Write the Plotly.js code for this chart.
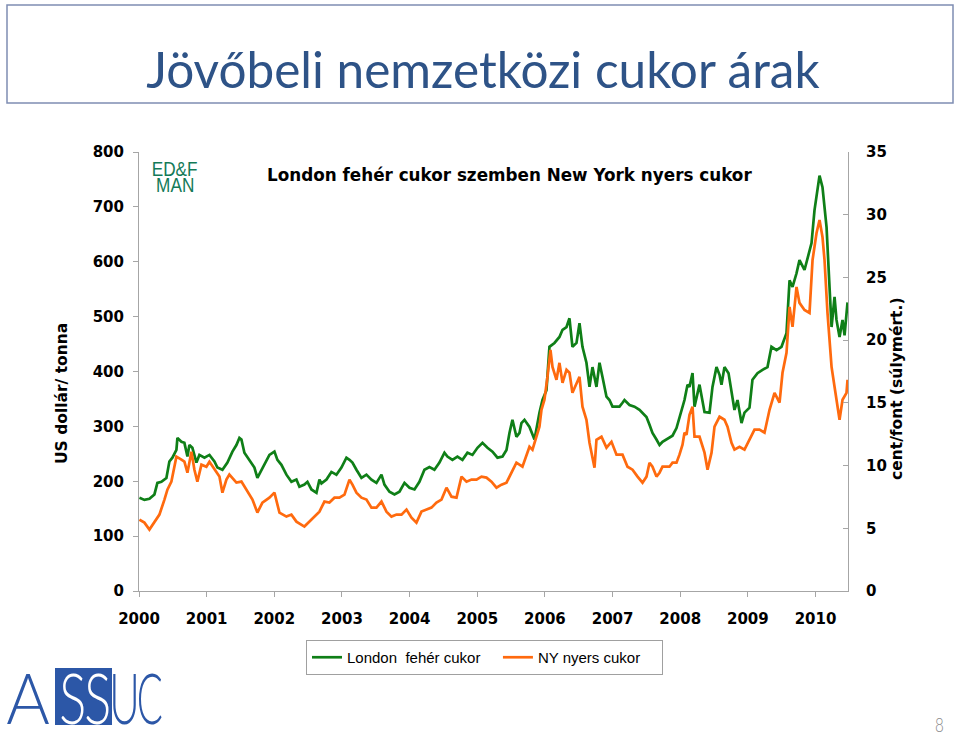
<!DOCTYPE html>
<html>
<head>
<meta charset="utf-8">
<script src="https://cdn.plot.ly/plotly-3.0.1.min.js"></script>
<style>html,body{margin:0;padding:0;background:#fff;}#chart{width:960px;height:733px;}</style>
</head>
<body>
<div id="chart"></div>
<script>
// ---- Data ----
// London white sugar, US dollar / tonne (left axis)
const londonYears = [2000.006,2000.080,2000.154,2000.228,2000.272,2000.331,2000.405,2000.449,2000.494,2000.553,2000.568,2000.627,2000.671,2000.716,2000.745,2000.789,2000.849,2000.893,2000.967,2001.041,2001.115,2001.159,2001.233,2001.307,2001.381,2001.440,2001.484,2001.514,2001.558,2001.632,2001.706,2001.750,2001.810,2001.883,2001.928,2002.002,2002.046,2002.105,2002.179,2002.253,2002.327,2002.371,2002.445,2002.490,2002.549,2002.623,2002.667,2002.697,2002.771,2002.844,2002.918,2002.992,2003.066,2003.111,2003.155,2003.214,2003.288,2003.362,2003.436,2003.510,2003.584,2003.628,2003.702,2003.776,2003.850,2003.924,2003.998,2004.072,2004.145,2004.219,2004.293,2004.367,2004.441,2004.515,2004.559,2004.633,2004.707,2004.781,2004.855,2004.929,2005.003,2005.077,2005.151,2005.225,2005.299,2005.373,2005.432,2005.476,2005.520,2005.579,2005.624,2005.653,2005.698,2005.772,2005.846,2005.919,2005.964,2006.023,2006.067,2006.141,2006.215,2006.260,2006.319,2006.363,2006.407,2006.467,2006.511,2006.555,2006.614,2006.659,2006.703,2006.762,2006.807,2006.851,2006.910,2006.954,2006.999,2007.058,2007.102,2007.147,2007.176,2007.250,2007.324,2007.398,2007.501,2007.546,2007.590,2007.649,2007.694,2007.738,2007.797,2007.841,2007.886,2007.945,2007.989,2008.034,2008.063,2008.108,2008.137,2008.182,2008.211,2008.285,2008.359,2008.433,2008.477,2008.536,2008.581,2008.610,2008.654,2008.714,2008.758,2008.802,2008.847,2008.906,2008.950,2009.024,2009.068,2009.098,2009.142,2009.216,2009.290,2009.349,2009.423,2009.497,2009.571,2009.616,2009.660,2009.719,2009.763,2009.837,2009.882,2009.941,2009.985,2010.030,2010.059,2010.103,2010.163,2010.207,2010.237,2010.281,2010.310,2010.355,2010.399,2010.429,2010.473];
const londonValues = [170,166,168,176,197,199,206,236,243,257,279,272,270,245,266,261,234,248,243,248,236,225,221,234,254,266,279,276,252,239,225,206,221,239,248,254,239,230,212,199,203,190,194,199,185,179,203,196,203,217,212,225,243,239,234,221,206,212,203,197,212,194,181,176,181,197,188,185,199,221,226,221,234,252,245,239,245,239,252,248,261,270,261,254,243,245,257,288,312,281,288,306,312,299,276,325,348,366,445,452,463,476,481,497,445,452,488,445,416,372,408,372,416,390,354,348,336,336,336,343,348,339,336,330,317,303,288,276,266,272,276,279,283,297,316,339,348,376,372,397,336,376,326,325,372,408,394,376,408,397,361,330,348,306,325,334,385,390,397,403,408,445,439,445,470,566,554,579,603,585,608,634,694,736,757,736,663,554,481,536,494,463,494,466,526];
// New York raw sugar, US cents / pound (right axis)
const nyYears = [2000.006,2000.080,2000.154,2000.228,2000.302,2000.376,2000.420,2000.479,2000.553,2000.627,2000.671,2000.716,2000.775,2000.819,2000.863,2000.923,2000.996,2001.041,2001.115,2001.189,2001.233,2001.292,2001.336,2001.440,2001.514,2001.588,2001.677,2001.750,2001.824,2001.928,2002.002,2002.076,2002.179,2002.253,2002.327,2002.445,2002.549,2002.667,2002.741,2002.815,2002.889,2002.963,2003.037,2003.111,2003.155,2003.214,2003.288,2003.362,2003.436,2003.510,2003.584,2003.658,2003.732,2003.806,2003.880,2003.954,2004.028,2004.101,2004.175,2004.249,2004.323,2004.397,2004.471,2004.545,2004.619,2004.693,2004.767,2004.841,2004.915,2004.989,2005.062,2005.136,2005.210,2005.284,2005.358,2005.432,2005.476,2005.579,2005.668,2005.772,2005.816,2005.875,2005.919,2005.949,2005.993,2006.038,2006.082,2006.112,2006.171,2006.215,2006.260,2006.319,2006.363,2006.407,2006.467,2006.511,2006.555,2006.614,2006.659,2006.703,2006.733,2006.762,2006.836,2006.910,2006.984,2007.058,2007.147,2007.221,2007.295,2007.369,2007.443,2007.502,2007.546,2007.590,2007.649,2007.694,2007.738,2007.797,2007.841,2007.886,2007.945,2007.989,2008.034,2008.063,2008.093,2008.137,2008.182,2008.211,2008.285,2008.359,2008.404,2008.463,2008.507,2008.581,2008.654,2008.699,2008.758,2008.802,2008.876,2008.950,2009.024,2009.098,2009.172,2009.246,2009.320,2009.394,2009.468,2009.512,2009.571,2009.616,2009.660,2009.719,2009.763,2009.837,2009.911,2009.956,2010.015,2010.059,2010.103,2010.133,2010.177,2010.237,2010.281,2010.326,2010.355,2010.399,2010.458,2010.473];
const nyValues = [5.69,5.45,4.90,5.45,6.09,7.29,8.08,8.72,10.71,10.47,10.31,9.43,11.11,9.67,8.72,10.07,9.91,10.31,9.67,9.12,7.84,8.88,9.28,8.64,8.72,8.08,7.29,6.25,7.05,7.44,7.84,6.25,5.93,6.09,5.53,5.14,5.69,6.33,7.13,7.05,7.44,7.44,7.68,8.88,8.48,7.84,7.44,7.29,6.65,6.65,7.13,6.33,5.93,6.09,6.09,6.49,5.85,5.45,6.33,6.49,6.65,7.05,7.29,8.24,7.52,7.44,9.12,8.72,8.88,8.88,9.12,9.04,8.72,8.24,8.48,8.64,9.12,10.23,9.91,11.50,11.27,12.30,13.10,14.45,15.25,17.08,19.23,17.87,16.84,18.19,16.60,17.64,17.40,15.80,16.60,17.08,14.69,13.65,11.82,10.47,9.83,12.06,12.30,11.43,11.90,10.87,10.87,9.91,9.67,9.12,8.64,9.12,10.23,9.91,9.12,9.43,9.91,9.91,9.91,10.23,10.23,10.87,11.66,12.62,12.46,14.05,14.69,12.30,12.30,11.03,9.67,11.03,13.10,13.89,13.65,13.10,11.82,11.27,11.50,11.27,12.06,12.86,12.86,12.62,14.45,15.80,15.01,17.40,18.99,22.65,21.06,24.24,22.97,22.41,22.17,26.39,28.54,29.58,28.22,26.39,22.17,17.87,16.28,14.69,13.65,15.25,15.80,16.84];
const yearTicks = [2000,2001,2002,2003,2004,2005,2006,2007,2008,2009,2010];
const yearLabels = ['2000','2001','2002','2003','2004','2005','2006','2007','2008','2009','2010'];
const leftTicks = [0,100,200,300,400,500,600,700,800];
const rightTicks = [0,5,10,15,20,25,30,35];
const seriesNames = ['London  fehér cukor', 'NY nyers cukor'];

// ---- Layout helpers (pixel -> paper) ----
const L = 139, R = 848, T = 152, B = 591;
const px = x => (x - L) / (R - L);
const py = y => (B - y) / (B - T);
const NB = '\u00a0';
const bold = {family: 'DejaVu Sans, Verdana, sans-serif', size: 15, color: '#000', weight: 'bold'};
const logoFont = (size, color) => ({family: 'Lato, Liberation Sans, sans-serif', size: size, color: color, weight: 300});
const manFont = {family: 'Liberation Sans, Arial, sans-serif', size: 20, color: '#137a58'};

const traces = [
  {x: londonYears, y: londonValues, name: seriesNames[0] + NB.repeat(3), type: 'scatter', mode: 'lines',
   line: {color: '#0f7f17', width: 2.7}, yaxis: 'y'},
  {x: nyYears, y: nyValues, name: seriesNames[1] + NB.repeat(4), type: 'scatter', mode: 'lines',
   line: {color: '#ff6a0e', width: 2.7}, yaxis: 'y2'}
];

// horizontal squeeze factors for some annotations (by annotation index)
const squeeze = {3: 0.86, 4: 0.86, 5: 0.95, 6: 0.72, 7: 0.72, 8: 0.6, 9: 0.55, 10: 0.8};

const layout = {
  width: 960, height: 733,
  margin: {l: L, r: 960 - R, t: T, b: 733 - B, pad: 0},
  paper_bgcolor: '#fff', plot_bgcolor: '#fff',
  showlegend: true,
  title: {text: 'Jövőbeli nemzetközi cukor árak', x: 0.503, xanchor: 'center', y: 1 - 71 / 733, yanchor: 'middle',
          font: {family: 'Lato, Open Sans, sans-serif', size: 49.5, color: '#2e5387'}},
  xaxis: {type: 'linear', range: [2000, 2010.48], tickvals: yearTicks, ticktext: yearLabels,
          showline: true, linecolor: '#a6a6a6', linewidth: 1, ticks: 'outside', ticklen: 5, tickcolor: '#a6a6a6',
          showgrid: false, zeroline: false, tickfont: bold, ticklabelstandoff: 9, fixedrange: true},
  yaxis: {range: [0, 800], tickvals: leftTicks, showline: true, linecolor: '#a6a6a6', linewidth: 1,
          ticks: 'outside', ticklen: 5, tickcolor: '#a6a6a6', showgrid: false, zeroline: false,
          tickfont: bold, ticklabelstandoff: 6},
  yaxis2: {range: [0, 35], tickvals: rightTicks, overlaying: 'y', side: 'right', anchor: 'x',
           showline: true, linecolor: '#a6a6a6', linewidth: 1, ticks: 'inside', ticklen: 5, tickcolor: '#a6a6a6',
           showgrid: false, zeroline: false, tickfont: bold, ticklabelstandoff: 14},
  legend: {orientation: 'h', x: px(306), xanchor: 'left', y: py(640), yanchor: 'top',
           bordercolor: '#a0a0a0', borderwidth: 1, bgcolor: '#fff',
           font: {family: 'Liberation Sans, Arial, sans-serif', size: 15, color: '#000'},
           itemwidth: 30, tracegroupgap: 0},
  shapes: [
    {type: 'rect', xref: 'paper', yref: 'paper', x0: px(7), x1: px(953), y0: py(103), y1: py(5),
     line: {color: '#7f8db3', width: 1.5}, fillcolor: 'rgba(0,0,0,0)'},
    {type: 'rect', xref: 'paper', yref: 'paper', x0: px(55), x1: px(112), y0: py(725), y1: py(668),
     line: {width: 0}, fillcolor: '#2c57a7'}
  ],
  annotations: [
    {text: '<b>London fehér cukor szemben New York nyers cukor</b>', xref: 'paper', yref: 'paper',
     x: px(509), y: py(175), xanchor: 'center', yanchor: 'middle', showarrow: false,
     font: {family: 'DejaVu Sans, Verdana, sans-serif', size: 16.8, color: '#000'}},
    {text: '<b>US dollár/ tonna</b>', xref: 'paper', yref: 'paper', x: px(62), y: py(394),
     xanchor: 'center', yanchor: 'middle', textangle: -90, showarrow: false,
     font: {family: 'DejaVu Sans, Verdana, sans-serif', size: 15.5, color: '#000'}},
    {text: '<b>cent/font (súlymért.)</b>', xref: 'paper', yref: 'paper', x: px(897), y: py(388),
     xanchor: 'center', yanchor: 'middle', textangle: -90, showarrow: false,
     font: {family: 'DejaVu Sans, Verdana, sans-serif', size: 15.5, color: '#000'}},
    {text: 'ED&amp;F', xref: 'paper', yref: 'paper', x: px(174.5), y: py(168.5), xanchor: 'center', yanchor: 'middle',
     showarrow: false, font: manFont},
    {text: 'MAN', xref: 'paper', yref: 'paper', x: px(174.5), y: py(184.5), xanchor: 'center', yanchor: 'middle',
     showarrow: false, font: manFont},
    {text: 'A', xref: 'paper', yref: 'paper', x: px(28), y: py(697), xanchor: 'center', yanchor: 'middle',
     showarrow: false, font: logoFont(70, '#2c57a7')},
    {text: 'S', xref: 'paper', yref: 'paper', x: px(72), y: py(697), xanchor: 'center', yanchor: 'middle',
     showarrow: false, font: logoFont(70, '#ffffff')},
    {text: 'S', xref: 'paper', yref: 'paper', x: px(97), y: py(697), xanchor: 'center', yanchor: 'middle',
     showarrow: false, font: logoFont(70, '#ffffff')},
    {text: 'U', xref: 'paper', yref: 'paper', x: px(124), y: py(697), xanchor: 'center', yanchor: 'middle',
     showarrow: false, font: logoFont(70, '#2c57a7')},
    {text: 'C', xref: 'paper', yref: 'paper', x: px(149), y: py(697), xanchor: 'center', yanchor: 'middle',
     showarrow: false, font: logoFont(70, '#2c57a7')},
    {text: '8', xref: 'paper', yref: 'paper', x: px(939), y: py(724), xanchor: 'center', yanchor: 'middle',
     showarrow: false, font: {family: 'Lato, Liberation Sans, sans-serif', size: 19, color: '#8a8a8a', weight: 300}}
  ]
};

Plotly.newPlot('chart', traces, layout, {staticPlot: true, displayModeBar: false}).then(gd => {
  gd.querySelectorAll('g.annotation').forEach(g => {
    const idx = g.getAttribute('data-index');
    if (squeeze[idx] === undefined) return;
    const t = g.querySelector('text.annotation-text');
    if (!t) return;
    const bb = t.getBBox();
    const cx = bb.x + bb.width / 2;
    t.setAttribute('transform', 'translate(' + cx + ',0) scale(' + squeeze[idx] + ',1) translate(' + (-cx) + ',0)');
  });
});
</script>
</body>
</html>
